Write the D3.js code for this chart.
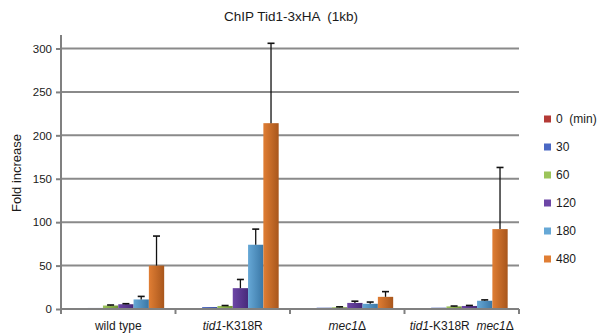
<!DOCTYPE html>
<html>
<head>
<meta charset="utf-8">
<script src="https://cdn.jsdelivr.net/npm/d3@7"></script>
<style>
  body { margin: 0; background: #fff; }
  svg { font-family: "Liberation Sans", Arial, sans-serif; }
</style>
</head>
<body>
<svg id="chart" width="602" height="335"></svg>
<script>
// Strains (x groups) and ChIP time points (min)
const strains = ["wild type", "tid1-K318R", "mec1Δ", "tid1-K318R mec1Δ"];
const times = ["0", "30", "60", "120", "180", "480"];

// Fold increase per time point, one array per strain
const wildType      = [0, 1.2, 4, 5.5, 11, 50];
const tid1K318R     = [0, 2.2, 3.5, 24, 74, 214];
const mec1          = [0, 1.5, 2, 7, 6, 14];
const tid1K318Rmec1 = [0, 1.5, 3, 3.5, 9.5, 92];

// Upper error (SD) per time point, one array per strain
const wildTypeErr      = [0, 0, 0.6, 0.6, 3.5, 34];
const tid1K318RErr     = [0, 0, 0.5, 10, 18, 92];
const mec1Err          = [0, 0, 0.5, 2, 2, 6];
const tid1K318Rmec1Err = [0, 0, 0.4, 0.6, 1, 71];

const yTicks = [0, 50, 100, 150, 200, 250, 300];

const values = [wildType, tid1K318R, mec1, tid1K318Rmec1];
const errors = [wildTypeErr, tid1K318RErr, mec1Err, tid1K318Rmec1Err];

const colors = {
  "0":   ["#b43a36", "#7e1f1d"],
  "30":  ["#4a68c4", "#2b429c"],
  "60":  ["#9cc45a", "#6e9434"],
  "120": ["#6d46a6", "#472a7a"],
  "180": ["#66a8d6", "#3a77a6"],
  "480": ["#e07e34", "#a8561c"]
};

const svg = d3.select("#chart");
const margin = { left: 61, right: 83, top: 48, bottom: 26 };
const W = 602, H = 335;
const plotRight = W - margin.right;   // 519
const plotBottom = H - margin.bottom; // 309

const x0 = d3.scaleBand().domain(strains).range([margin.left, plotRight]).padding(0);
const x1 = d3.scaleBand().domain(times).range([0, x0.bandwidth()])
  .paddingInner(0).paddingOuter(0.74);
const y = d3.scaleLinear().domain([0, 300]).range([plotBottom, margin.top + 0.5]);

// gradients for the bar fills
const defs = svg.append("defs");
times.forEach(t => {
  const g = defs.append("linearGradient")
    .attr("id", "grad" + t).attr("x1", "0%").attr("x2", "100%").attr("y1", "0%").attr("y2", "0%");
  g.append("stop").attr("offset", "0%").attr("stop-color", colors[t][0]);
  g.append("stop").attr("offset", "100%").attr("stop-color", colors[t][1]);
});

// title
svg.append("text")
  .attr("x", 291).attr("y", 21)
  .attr("text-anchor", "middle")
  .attr("font-size", 13.5)
  .attr("fill", "#1a1a1a")
  .attr("xml:space", "preserve")
  .text("ChIP Tid1-3xHA  (1kb)");

// horizontal gridlines
svg.append("g").selectAll("line")
  .data(yTicks.filter(d => d > 0))
  .join("line")
  .attr("x1", margin.left).attr("x2", plotRight)
  .attr("y1", d => y(d)).attr("y2", d => y(d))
  .attr("stroke", "#8a8a8a").attr("stroke-width", 2);

// y axis
const yAxis = svg.append("g")
  .attr("transform", `translate(${margin.left},0)`)
  .call(d3.axisLeft(y).tickValues(yTicks).tickSize(5).tickPadding(4));
yAxis.select(".domain").remove();
yAxis.selectAll(".tick line").attr("stroke", "#808080").attr("stroke-width", 2);
yAxis.selectAll(".tick text").attr("font-size", 11.5).attr("fill", "#1a1a1a")
  .attr("font-family", "Liberation Sans, Arial, sans-serif");
svg.append("line")
  .attr("x1", margin.left).attr("x2", margin.left)
  .attr("y1", 35).attr("y2", plotBottom + 5)
  .attr("stroke", "#808080").attr("stroke-width", 2);

// y title
svg.append("text")
  .attr("transform", `translate(21,${173}) rotate(-90)`)
  .attr("text-anchor", "middle")
  .attr("font-size", 13)
  .attr("fill", "#1a1a1a")
  .text("Fold increase");

// bars
const groups = svg.append("g").selectAll("g")
  .data(strains.map((s, i) => ({ strain: s, vals: values[i], errs: errors[i] })))
  .join("g")
  .attr("transform", d => `translate(${x0(d.strain)},0)`);

const items = d => times.map((t, j) => ({ t, v: d.vals[j], e: d.errs[j] }));

groups.selectAll("rect")
  .data(items)
  .join("rect")
  .attr("x", d => x1(d.t))
  .attr("width", x1.bandwidth())
  .attr("y", d => y(d.v))
  .attr("height", d => y(0) - y(d.v))
  .attr("fill", d => `url(#grad${d.t})`);

// error bars (upper only)
const eb = groups.selectAll("g.err")
  .data(d => items(d).filter(e => e.e > 0))
  .join("g").attr("class", "err");
eb.append("line")
  .attr("x1", d => x1(d.t) + x1.bandwidth() / 2)
  .attr("x2", d => x1(d.t) + x1.bandwidth() / 2)
  .attr("y1", d => y(d.v))
  .attr("y2", d => y(d.v + d.e))
  .attr("stroke", "#111").attr("stroke-width", 1.3);
eb.append("line")
  .attr("x1", d => x1(d.t) + x1.bandwidth() / 2 - 3.5)
  .attr("x2", d => x1(d.t) + x1.bandwidth() / 2 + 3.5)
  .attr("y1", d => y(d.v + d.e))
  .attr("y2", d => y(d.v + d.e))
  .attr("stroke", "#111").attr("stroke-width", 1.6);

// x axis baseline and category dividers
svg.append("line")
  .attr("x1", margin.left).attr("x2", plotRight)
  .attr("y1", plotBottom).attr("y2", plotBottom)
  .attr("stroke", "#808080").attr("stroke-width", 2);
svg.append("g").selectAll("line")
  .data(strains)
  .join("line")
  .attr("x1", d => x0(d) + x0.bandwidth()).attr("x2", d => x0(d) + x0.bandwidth())
  .attr("y1", plotBottom).attr("y2", plotBottom + 5)
  .attr("stroke", "#808080").attr("stroke-width", 2);

// category labels with italic gene names (Δ kept upright)
const labelParts = {
  "wild type": [["wild type", false]],
  "tid1-K318R": [["tid1", true], ["-K318R", false]],
  "mec1Δ": [["mec1", true], ["Δ", false]],
  "tid1-K318R mec1Δ": [["tid1", true], ["-K318R  ", false], ["mec1", true], ["Δ", false]]
};
svg.append("g").selectAll("text")
  .data(strains)
  .join("text")
  .attr("x", d => x0(d) + x0.bandwidth() / 2)
  .attr("y", 330)
  .attr("text-anchor", "middle")
  .attr("font-size", 12)
  .attr("fill", "#1a1a1a")
  .attr("xml:space", "preserve")
  .each(function (d) {
    d3.select(this).selectAll("tspan")
      .data(labelParts[d])
      .join("tspan")
      .attr("font-style", p => p[1] ? "italic" : "normal")
      .text(p => p[0]);
  });

// legend
const legend = svg.append("g").selectAll("g")
  .data(times)
  .join("g")
  .attr("transform", (d, i) => `translate(544,${119 + i * 28})`);
legend.append("rect")
  .attr("x", 0).attr("y", -3.5).attr("width", 7).attr("height", 7)
  .attr("fill", d => colors[d][0]);
legend.append("text")
  .attr("x", 12).attr("y", 4)
  .attr("font-size", 12)
  .attr("fill", "#1a1a1a")
  .attr("xml:space", "preserve")
  .text(d => d === "0" ? "0  (min)" : d);
</script>
</body>
</html>
